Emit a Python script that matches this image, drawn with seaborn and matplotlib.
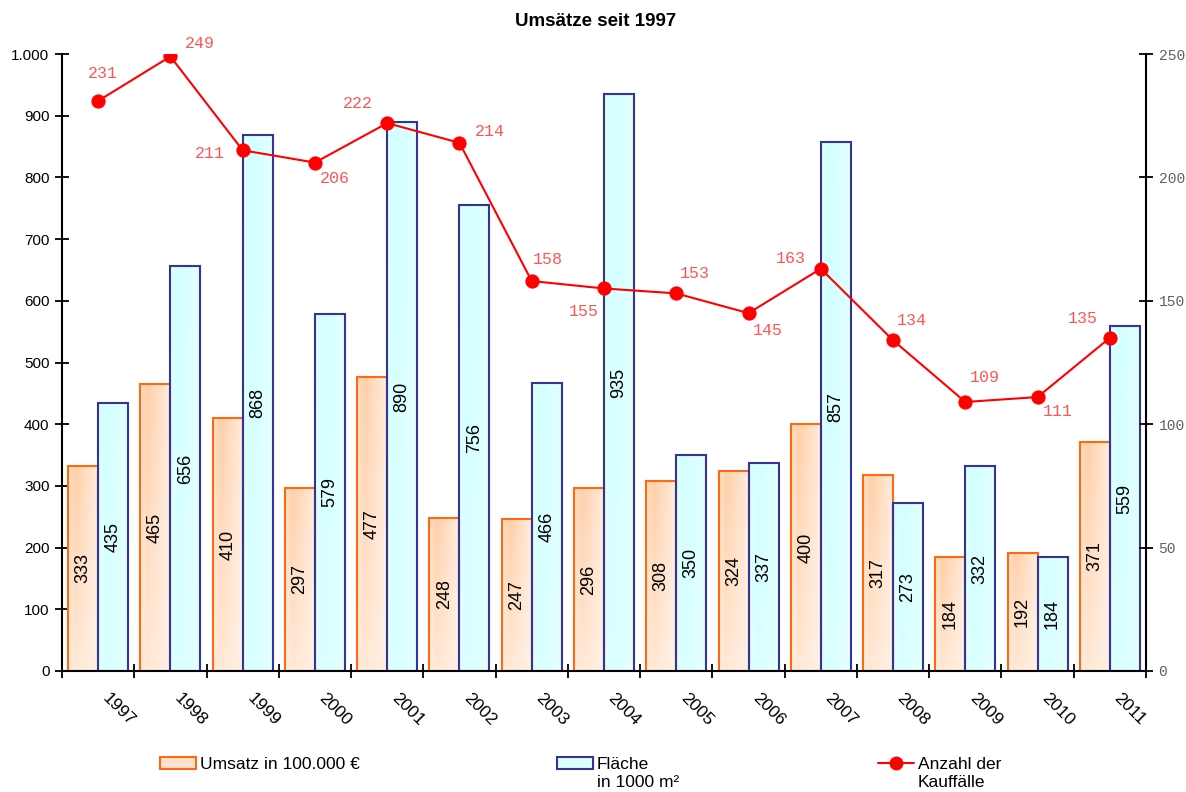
import numpy as np
import pandas as pd
import matplotlib
matplotlib.use("Agg")
import matplotlib.pyplot as plt
from matplotlib.patches import Patch
from matplotlib.lines import Line2D
from matplotlib.ticker import FuncFormatter, FixedLocator, NullFormatter
from matplotlib.transforms import ScaledTranslation
import seaborn as sns

# ---- data ----
years = ["1997", "1998", "1999", "2000", "2001", "2002", "2003", "2004",
         "2005", "2006", "2007", "2008", "2009", "2010", "2011"]
umsatz = [333, 465, 410, 297, 477, 248, 247, 296, 308, 324, 400, 317, 184, 192, 371]
flaeche = [435, 656, 868, 579, 890, 756, 466, 935, 350, 337, 857, 273, 332, 184, 559]
kauffaelle = [231, 249, 211, 206, 222, 214, 158, 155, 153, 145, 163, 134, 109, 111, 135]

series_umsatz = "Umsatz in 100.000 €"
series_flaeche = "Fläche"

# label offsets (pixels) for the count annotations around each marker
label_offsets = [(5, 27), (29, 13), (-33, -3), (20, -16), (-29, 20), (30, 11),
                 (16, 22), (-20, -23), (19, 20), (19, -17), (-30, 10), (19, 20),
                 (19, 24), (20, -14), (-27, 19)]

sns.set_theme(style="white")
plt.rcParams["font.family"] = ["Liberation Sans", "DejaVu Sans"]
plt.rcParams.update({"text.color": "black", "axes.labelcolor": "black",
                     "xtick.color": "black", "ytick.color": "black"})

df = pd.DataFrame({
    "Jahr": years * 2,
    "Wert": umsatz + flaeche,
    "Serie": [series_umsatz] * len(years) + [series_flaeche] * len(years),
})

fig = plt.figure(figsize=(11.86, 7.92), dpi=100)
ax = fig.add_axes([62 / 1186, 1 - 671 / 792, (1146 - 62) / 1186, (671 - 54) / 792])

orange_edge = "#ff6a10"
blue_edge = "#33339a"

sns.barplot(data=df, x="Jahr", y="Wert", hue="Serie", order=years,
            hue_order=[series_umsatz, series_flaeche], width=0.83, dodge=True,
            palette=["#ffe0c8", "#dcffff"], legend=False, ax=ax, zorder=2)


def gradient(dark, light, xs_pts, xs_vals, top_w, bottom_w, n=60, m=40):
    xs = np.linspace(0, 1, m)
    ys = np.linspace(0, 1, n)
    hx = np.interp(xs, xs_pts, xs_vals)
    vy = top_w + (bottom_w - top_w) * ys
    t = np.clip(vy[:, None] * hx[None, :], 0, 1)
    dark = np.array(dark) / 255
    light = np.array(light) / 255
    return light[None, None, :] + (dark - light)[None, None, :] * t[:, :, None]


grad_orange = gradient((255, 207, 168), (255, 243, 233), [0, 0.25, 1], [0.55, 1, 0.2], 1.0, 0.3)
grad_blue = gradient((210, 255, 255), (236, 255, 255), [0, 0.3, 1], [0.55, 1, 0.35], 1.0, 0.75)

for container, grad, edge in zip(ax.containers, [grad_orange, grad_blue], [orange_edge, blue_edge]):
    for patch in container.patches:
        x0, y0 = patch.get_x(), patch.get_y()
        w, h = patch.get_width(), patch.get_height()
        ax.imshow(grad, extent=[x0, x0 + w, y0, y0 + h], aspect="auto",
                  origin="upper", zorder=1.9, interpolation="bilinear")
        patch.set_facecolor("none")
        patch.set_edgecolor(edge)
        patch.set_linewidth(1.5)
    ax.bar_label(container, labels=[str(int(v)) for v in container.datavalues],
                 label_type="center", rotation=90, fontsize=13, color="black", zorder=3)

ax.set_xlim(-0.5, len(years) - 0.5)
ax.set_ylim(0, 1000)
ax.set_xlabel("")
ax.set_ylabel("")

# x axis: tick marks at category borders, labels at category centres
ax.xaxis.set_major_locator(FixedLocator(np.arange(len(years))))
ax.set_xticklabels(years, rotation=-45, ha="left", rotation_mode="anchor",
                   fontsize=12.5)
ax.tick_params(axis="x", which="major", length=0, pad=14)
shift = ScaledTranslation(12 / 100, 0, fig.dpi_scale_trans)
for lab in ax.get_xticklabels():
    lab.set_transform(lab.get_transform() + shift)
ax.xaxis.set_minor_locator(FixedLocator(np.arange(len(years) + 1) - 0.5))
ax.xaxis.set_minor_formatter(NullFormatter())
ax.tick_params(axis="x", which="minor", direction="inout", length=10, width=1.3,
               color="black", bottom=True)

ax.set_yticks(np.arange(0, 1001, 100))
ax.yaxis.set_major_formatter(FuncFormatter(lambda v, p: f"{int(v):,}".replace(",", ".")))
ax.tick_params(axis="y", direction="inout", length=10, width=1.3, color="black",
               labelsize=11, left=True, pad=4)

for side in ["left", "bottom", "right"]:
    ax.spines[side].set_color("black")
    ax.spines[side].set_linewidth(1.5)
ax.spines["top"].set_visible(False)
ax.grid(False)

# secondary axis with the number of purchases
ax2 = ax.twinx()
sns.lineplot(x=np.arange(len(years)), y=kauffaelle, ax=ax2, color="#ff0000",
             marker="o", markersize=9.5, markeredgecolor="#ff0000",
             linewidth=1.5, zorder=5)
ax2.set_ylim(0, 250)
ax2.set_yticks(np.arange(0, 251, 50))
ax2.tick_params(axis="y", direction="inout", length=10, width=1.3, color="black",
                labelsize=10.5, labelcolor="#606060", right=True, pad=4)
for lab in ax2.get_yticklabels():
    lab.set_fontfamily("Liberation Mono")
for side in ["left", "bottom", "right", "top"]:
    ax2.spines[side].set_visible(False)
ax2.grid(False)
ax2.set_ylabel("")

for i, (v, (dx, dy)) in enumerate(zip(kauffaelle, label_offsets)):
    ax2.annotate(str(v), xy=(i, v), xytext=(dx, dy), textcoords="offset pixels",
                 ha="center", va="center", fontsize=12, color="#ff5555",
                 fontfamily="Liberation Mono")

fig.text(0.502, 1 - 22 / 792, "Umsätze seit 1997", ha="center", va="center",
         fontsize=13.5, fontweight="bold", color="black")

# legend in three separate blocks
legend_items = [
    (Patch(facecolor="#ffe2cc", edgecolor=orange_edge, linewidth=1.5), series_umsatz, None, 160),
    (Patch(facecolor="#dcffff", edgecolor=blue_edge, linewidth=1.5), series_flaeche, "in 1000 m²", 557),
    (Line2D([0], [0], color="#ff0000", marker="o", markersize=9, linewidth=1.5),
     "Anzahl der", "Kauffälle", 878),
]
legends = []
for handle, text, second, xpx in legend_items:
    leg = fig.legend(handles=[handle], labels=[text], loc="upper left",
                     bbox_to_anchor=(xpx / 1186, 1 - 757 / 792), frameon=False,
                     borderaxespad=0, borderpad=0, handlelength=2.1,
                     handleheight=0.7, handletextpad=0.2, fontsize=12.5)
    legends.append((leg, second))

fig.canvas.draw()
inv = fig.transFigure.inverted()
for leg, second in legends:
    if second is None:
        continue
    bb = leg.get_texts()[0].get_window_extent()
    x0, y0 = inv.transform((bb.x0, bb.y0))
    fig.text(x0, y0 - 3 / 792, second, ha="left", va="top", fontsize=12.5)

fig.savefig("out.png", dpi=100)
